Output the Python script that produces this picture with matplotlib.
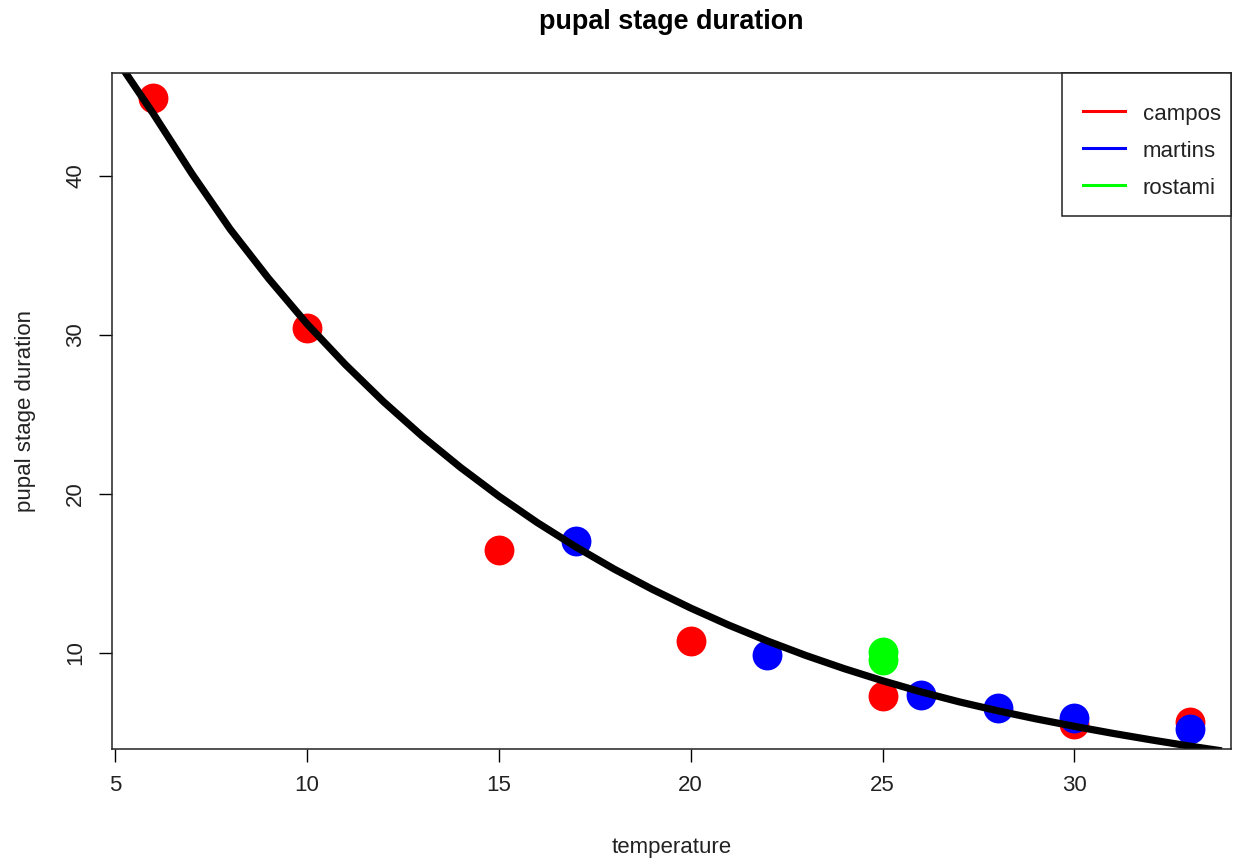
import matplotlib.pyplot as plt
from matplotlib.lines import Line2D
from matplotlib.patches import Rectangle

plt.rcParams['font.family'] = ['Liberation Sans', 'DejaVu Sans']

# observations, temperature vs pupal stage duration (days)
campos_temp = [6, 10, 15, 20, 25, 30, 33]
campos_dur = [44.9, 30.44, 16.48, 10.75, 7.3, 5.53, 5.65]

martins_temp = [17, 22, 26, 28, 30, 33]
martins_dur = [17.05, 9.88, 7.36, 6.54, 5.89, 5.2]

rostami_temp = [25, 25]
rostami_dur = [10.03, 9.53]

# fitted curve
fit_temp = [5.2, 6, 7, 8, 9, 10, 11, 12, 13, 14, 15, 16, 17, 18, 19, 20,
            21, 22, 23, 24, 25, 26, 27, 28, 29, 30, 31, 32, 33, 33.75]
fit_dur = [46.75, 43.9, 40.15, 36.65, 33.55, 30.7, 28.14, 25.79, 23.64, 21.67,
           19.86, 18.2, 16.68, 15.28, 14.0, 12.82, 11.74, 10.75, 9.84, 9.01,
           8.25, 7.55, 6.92, 6.36, 5.85, 5.38, 4.94, 4.53, 4.14, 3.87]

groups = ['campos', 'martins', 'rostami']
colors = ['#ff0000', '#0000ff', '#00ff00']

fig = plt.figure(figsize=(12.39, 8.63), dpi=100)
ax = fig.add_axes([0.0904, 0.1321, 0.9031, 0.7833])

ms = 21.5
ax.plot(campos_temp, campos_dur, 'o', color=colors[0], ms=ms, mec='none')
ax.plot(martins_temp, martins_dur, 'o', color=colors[1], ms=ms, mec='none')
ax.plot(rostami_temp, rostami_dur, 'o', color=colors[2], ms=ms, mec='none')
ax.plot(fit_temp, fit_dur, '-', color='black', lw=5.2, solid_joinstyle='round')

# axis ranges padded 4% like R's default
xmin, xmax = min(campos_temp), max(campos_temp)
ymin, ymax = min(campos_dur), max(campos_dur)
ax.set_xlim(xmin - 0.04 * (xmax - xmin), xmax + 0.04 * (xmax - xmin))
ax.set_ylim(ymin - 0.04 * (ymax - ymin), ymax + 0.04 * (ymax - ymin))

ax.set_xticks([5, 10, 15, 20, 25, 30])
ax.set_yticks([10, 20, 30, 40])
ax.tick_params(direction='out', length=9.5, width=1, labelsize=16, pad=9,
               colors='black', labelcolor='#222222')
plt.setp(ax.get_yticklabels(), rotation=90, va='center')
for s in ax.spines.values():
    s.set_linewidth(1.1)
    s.set_color('#222222')

ax.set_xlabel('temperature', fontsize=16, labelpad=30, color='#222222')
ax.set_ylabel('pupal stage duration', fontsize=16, labelpad=21, color='#222222')
fig.text(0.5415, 0.974, 'pupal stage duration', ha='center', va='center',
         fontsize=19.4, fontweight='bold')

# legend box in the top right corner
fig.patches.append(Rectangle((0.8571, 0.7497), 0.9935 - 0.8571, 0.9154 - 0.7497,
                             transform=fig.transFigure, facecolor='white',
                             edgecolor='#222222', lw=1.1, zorder=5))
rows = [0.8714, 0.8285, 0.7856]
for name, c, yy in zip(groups, colors, rows):
    fig.lines.append(Line2D([0.8741, 0.9080], [yy, yy], transform=fig.transFigure,
                            color=c, lw=2.2, zorder=6))
    fig.text(0.9225, yy - 0.0035, name, fontsize=16, va='center', ha='left',
             color='#222222', zorder=6)

fig.savefig('out.png', dpi=100)
